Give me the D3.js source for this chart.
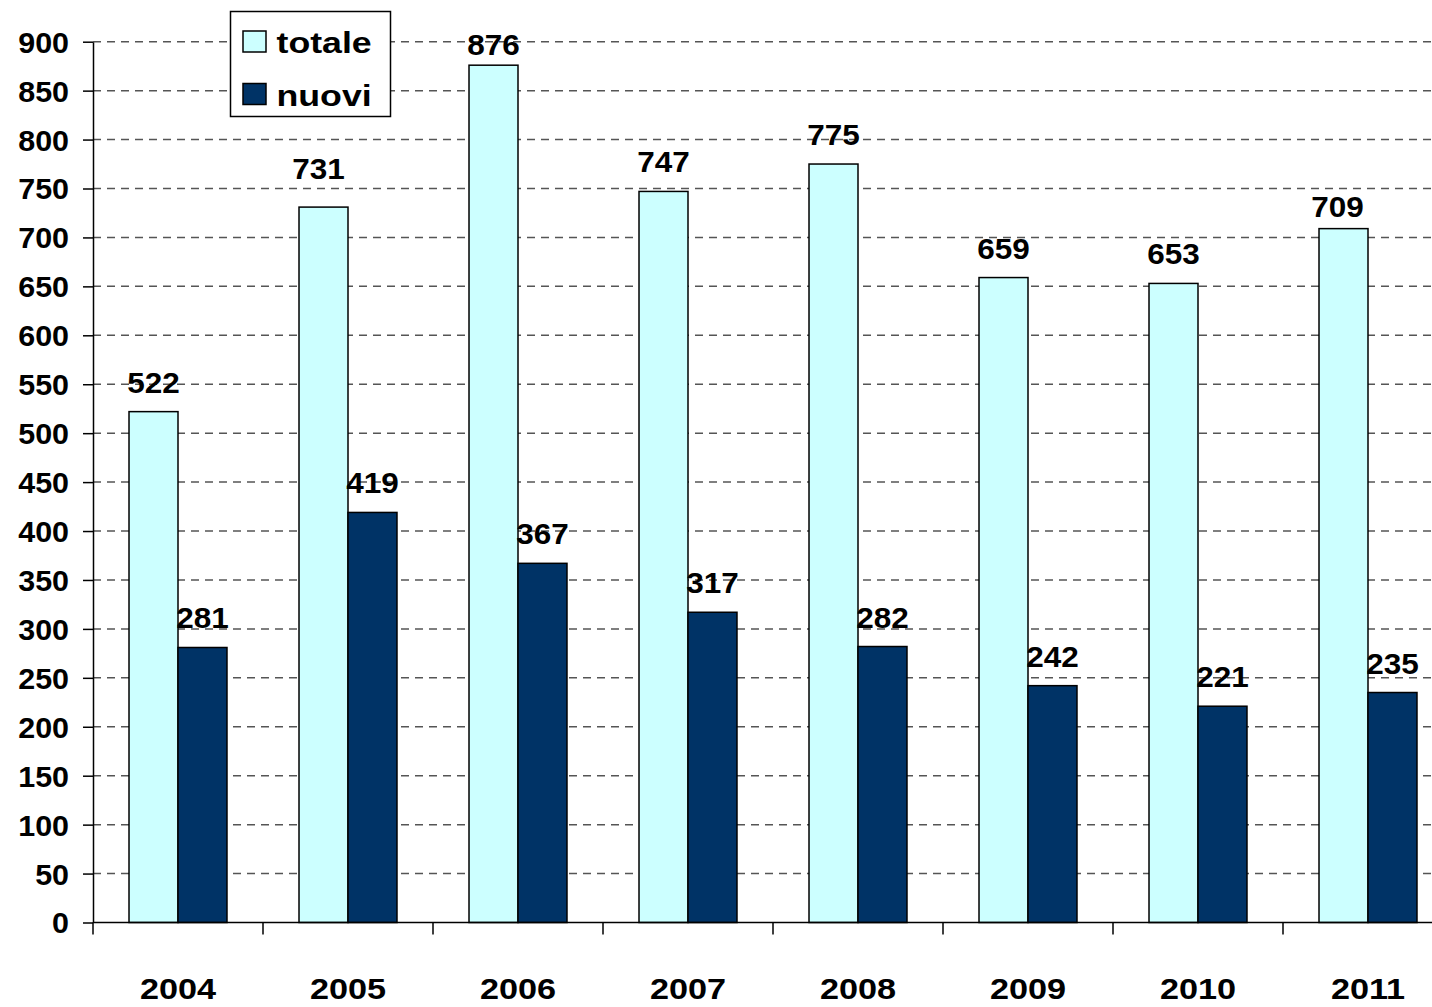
<!DOCTYPE html>
<html>
<head>
<meta charset="utf-8">
<script src="https://cdn.jsdelivr.net/npm/d3@7"></script>
<style>
  body { margin: 0; background: #fff; }
  svg text { font-family: "Liberation Sans", Arial, sans-serif; font-weight: bold; fill: #000; }
</style>
</head>
<body>
<div id="chart"></div>
<script>
// dati
const anni = ["2004", "2005", "2006", "2007", "2008", "2009", "2010", "2011"];
const serie = ["totale", "nuovi"];
const totale = [522, 731, 876, 747, 775, 659, 653, 709];
const nuovi = [281, 419, 367, 317, 282, 242, 221, 235];
const yTicks = d3.range(0, 901, 50);
const colori = ["#CCFFFF", "#003366"];

// etichette spostate a mano nell'originale (dx, dy in px)
const spostamenti = { "2005-totale": [-5, -9], "2011-totale": [-6, 7] };

const data = anni.map((a, i) => ({ anno: a, valori: [
  { anno: a, serie: "totale", v: totale[i] },
  { anno: a, serie: "nuovi", v: nuovi[i] }
]}));

const W = 1432, H = 1007;
const left = 93, zeroY = 922.5, topY = 41.7, band = 170;

const svg = d3.select("#chart").append("svg")
  .attr("width", W).attr("height", H);

// scale
const x0 = d3.scaleBand().domain(anni).range([left, left + band * anni.length]);
const x1 = d3.scaleBand().domain(serie).range([0, x0.bandwidth()]).paddingOuter(0.735);
const y = d3.scaleLinear().domain([0, 900]).range([zeroY, topY]);
const colore = d3.scaleOrdinal().domain(serie).range(colori);

// griglia tratteggiata
svg.append("g")
  .selectAll("line")
  .data(yTicks.filter(d => d > 0))
  .join("line")
  .attr("x1", left).attr("x2", W)
  .attr("y1", d => y(d)).attr("y2", d => y(d))
  .attr("stroke", "#555")
  .attr("stroke-width", 1.5)
  .attr("stroke-dasharray", "8,6");

// barre
const gruppi = svg.append("g")
  .selectAll("g")
  .data(data)
  .join("g")
  .attr("transform", d => `translate(${x0(d.anno)},0)`);

gruppi.selectAll("rect")
  .data(d => d.valori)
  .join("rect")
  .attr("x", d => x1(d.serie))
  .attr("width", x1.bandwidth())
  .attr("y", d => y(d.v))
  .attr("height", d => y(0) - y(d.v))
  .attr("fill", d => colore(d.serie))
  .attr("stroke", "#000")
  .attr("stroke-width", 1.5);

// etichette valori
gruppi.selectAll("text")
  .data(d => d.valori)
  .join("text")
  .attr("text-anchor", "middle")
  .attr("font-size", 30)
  .attr("transform", d => {
    const s = spostamenti[d.anno + "-" + d.serie] || [0, 0];
    const tx = x1(d.serie) + x1.bandwidth() / 2 + s[0];
    const ty = Math.max(y(d.v) - 19, 55) + s[1];
    return `translate(${tx},${ty}) scale(1.05,1)`;
  })
  .text(d => d.v);

// asse y
const yAxis = svg.append("g")
  .attr("transform", `translate(${left},0)`)
  .call(d3.axisLeft(y).tickValues(yTicks).tickSize(10).tickSizeOuter(0));
yAxis.select(".domain").attr("stroke", "#000").attr("stroke-width", 1.5);
yAxis.selectAll(".tick line").attr("stroke", "#000").attr("stroke-width", 1.5);
yAxis.selectAll(".tick text")
  .attr("x", 0).attr("dy", "0.36em")
  .attr("font-size", 29)
  .attr("transform", "translate(-24,0) scale(1.05,1)");

// asse x
const xAxis = svg.append("g")
  .attr("transform", `translate(0,${zeroY})`);
xAxis.append("line")
  .attr("x1", left).attr("x2", W)
  .attr("stroke", "#000").attr("stroke-width", 1.5);
xAxis.selectAll(".bordo")
  .data(anni.concat(["fine"]))
  .join("line")
  .attr("class", "bordo")
  .attr("x1", d => d === "fine" ? x0.range()[1] : x0(d))
  .attr("x2", d => d === "fine" ? x0.range()[1] : x0(d))
  .attr("y1", 0).attr("y2", 12)
  .attr("stroke", "#000").attr("stroke-width", 1.5);
xAxis.selectAll(".anno")
  .data(anni)
  .join("text")
  .attr("class", "anno")
  .attr("text-anchor", "middle")
  .attr("font-size", 29)
  .attr("transform", d => `translate(${x0(d) + x0.bandwidth() / 2},${999 - zeroY}) scale(1.18,1)`)
  .text(d => d);

// legenda
const leg = svg.append("g").attr("transform", "translate(230.5,11.5)");
leg.append("rect")
  .attr("width", 160).attr("height", 105)
  .attr("fill", "#fff").attr("stroke", "#000").attr("stroke-width", 1.5);
const voci = leg.selectAll(".voce")
  .data(serie)
  .join("g")
  .attr("class", "voce")
  .attr("transform", (d, i) => `translate(0,${i * 52.5})`);
voci.append("rect")
  .attr("x", 12.5).attr("y", 19.5)
  .attr("width", 23).attr("height", 21)
  .attr("fill", d => colore(d))
  .attr("stroke", "#000").attr("stroke-width", 1.5);
voci.append("text")
  .attr("font-size", 30)
  .attr("transform", "translate(46,41.5) scale(1.19,1)")
  .text(d => d);
</script>
</body>
</html>
